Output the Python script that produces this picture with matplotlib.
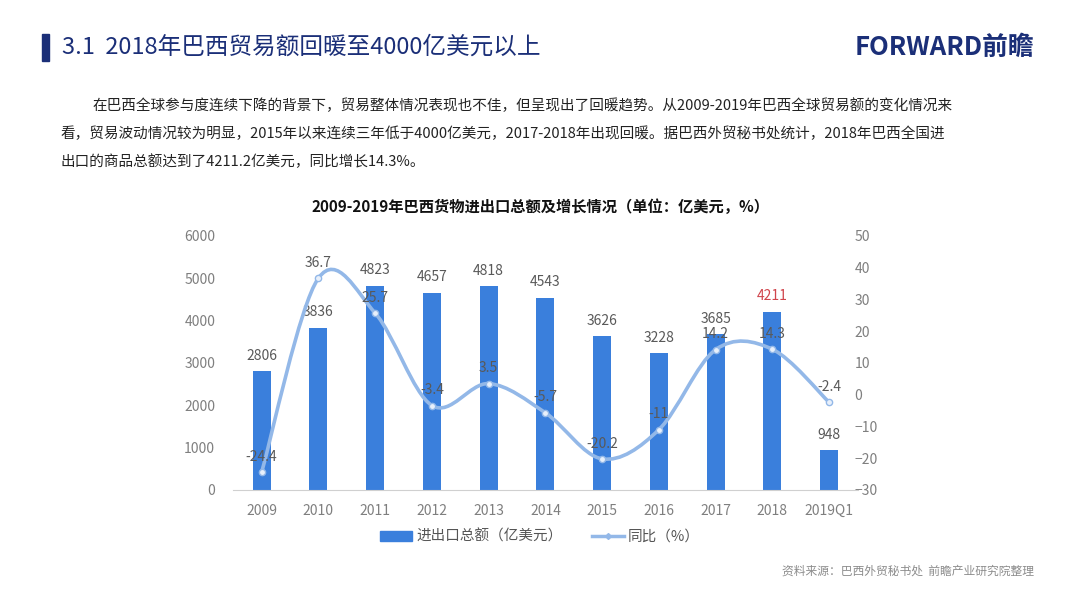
import matplotlib
matplotlib.use('Agg')
import matplotlib.pyplot as plt
from matplotlib.path import Path
from matplotlib.patches import PathPatch, Rectangle
from matplotlib.lines import Line2D

plt.rcParams['font.family'] = ['Noto Sans CJK SC', 'DejaVu Sans']

# 数据
years = ['2009', '2010', '2011', '2012', '2013', '2014', '2015', '2016', '2017', '2018', '2019Q1']
trade = [2806, 3836, 4823, 4657, 4818, 4543, 3626, 3228, 3685, 4211, 948]
growth = [-24.4, 36.7, 25.7, -3.4, 3.5, -5.7, -20.2, -11, 14.2, 14.3, -2.4]
left_ticks = [0, 1000, 2000, 3000, 4000, 5000, 6000]
right_ticks = [-30, -20, -10, 0, 10, 20, 30, 40, 50]

bar_color = '#3a7fdc'
line_color = '#93b8e8'
navy = '#1b2f78'
gray = '#595959'

fig = plt.figure(figsize=(10.8, 5.95), dpi=100)
fig.patch.set_facecolor('white')

# 页眉
fig.patches.append(Rectangle((0.039, 0.898), 0.006, 0.045, transform=fig.transFigure,
                             color=navy, zorder=5))
fig.text(0.057, 0.921, '3.1  2018年巴西贸易额回暖至4000亿美元以上', fontsize=17,
         color=navy, va='center', ha='left')
fig.text(0.958, 0.921, 'FORWARD前瞻', fontsize=18.5, color=navy, va='center',
         ha='right', fontweight='bold')

# 正文
para = ['在巴西全球参与度连续下降的背景下，贸易整体情况表现也不佳，但呈现出了回暖趋势。从2009-2019年巴西全球贸易额的变化情况来',
        '看，贸易波动情况较为明显，2015年以来连续三年低于4000亿美元，2017-2018年出现回暖。据巴西外贸秘书处统计，2018年巴西全国进',
        '出口的商品总额达到了4211.2亿美元，同比增长14.3%。']
fig.text(0.086, 0.823, para[0], fontsize=10.5, color='#222222', va='center')
fig.text(0.056, 0.775, para[1], fontsize=10.5, color='#222222', va='center')
fig.text(0.056, 0.728, para[2], fontsize=10.5, color='#222222', va='center')

fig.text(0.5, 0.653, '2009-2019年巴西货物进出口总额及增长情况（单位：亿美元，%）',
         fontsize=11, fontweight='bold', ha='center', va='center', color='#111111')

ax = fig.add_axes([0.216, 0.1765, 0.578, 0.427])
x = list(range(len(years)))
ax.bar(x, trade, width=0.32, color=bar_color, zorder=2)
ax.set_ylim(0, 6000)
ax.set_xlim(-0.5, 10.5)
ax.set_yticks(left_ticks)
ax.set_xticks(x)
ax.set_xticklabels(years)
for s in ['top', 'right', 'left']:
    ax.spines[s].set_visible(False)
ax.spines['bottom'].set_color('#d0d0d0')
ax.tick_params(axis='both', length=0, colors='#7f7f7f', labelsize=10)
ax.tick_params(axis='x', pad=10)
ax.tick_params(axis='y', pad=13)
for xi, v in zip(x, trade):
    c = '#d0454c' if years[xi] == '2018' else gray
    ax.annotate(str(v), (xi, v), xytext=(0, 6), textcoords='offset points',
                ha='center', va='bottom', fontsize=10, color=c)

ax2 = ax.twinx()
ax2.set_ylim(-30, 50)
ax2.set_yticks(right_ticks)
for s in ax2.spines.values():
    s.set_visible(False)
ax2.tick_params(axis='y', length=0, colors='#7f7f7f', labelsize=10, pad=-2)

# 平滑曲线（贝塞尔）
pts = list(zip(x, growth))
verts = [pts[0]]
codes = [Path.MOVETO]
n = len(pts)
for i in range(n - 1):
    p0 = pts[i - 1] if i > 0 else pts[i]
    p1 = pts[i]
    p2 = pts[i + 1]
    p3 = pts[i + 2] if i + 2 < n else pts[i + 1]
    c1 = (p1[0] + (p2[0] - p0[0]) / 6, p1[1] + (p2[1] - p0[1]) / 6)
    c2 = (p2[0] - (p3[0] - p1[0]) / 6, p2[1] - (p3[1] - p1[1]) / 6)
    verts += [c1, c2, p2]
    codes += [Path.CURVE4] * 3
ax2.add_patch(PathPatch(Path(verts, codes), facecolor='none', edgecolor=line_color,
                        lw=2.6, zorder=3))
ax2.plot(x, growth, linestyle='none', marker='o', markersize=4.5,
         markerfacecolor='#e8f0fb', markeredgecolor=line_color, zorder=4)
for xi, g in zip(x, growth):
    ax2.annotate(f'{g:g}', (xi, g), xytext=(0, 6), textcoords='offset points',
                 ha='center', va='bottom', fontsize=10, color=gray, zorder=5)

# 图例
handles = [Rectangle((0, 0), 1, 1, color=bar_color),
           Line2D([0], [0], color=line_color, lw=2.5, marker='D', markersize=3)]
fig.legend(handles, ['进出口总额（亿美元）', '同比（%）'], loc='center',
           bbox_to_anchor=(0.5, 0.098), ncol=2, frameon=False, fontsize=10.5,
           labelcolor='#555555', handlelength=2.2, handletextpad=0.3, columnspacing=2)

fig.text(0.957, 0.04, '资料来源：巴西外贸秘书处  前瞻产业研究院整理', fontsize=8.5,
         color='#8c8c8c', ha='right', va='center')

fig.savefig('out.png', dpi=100)
